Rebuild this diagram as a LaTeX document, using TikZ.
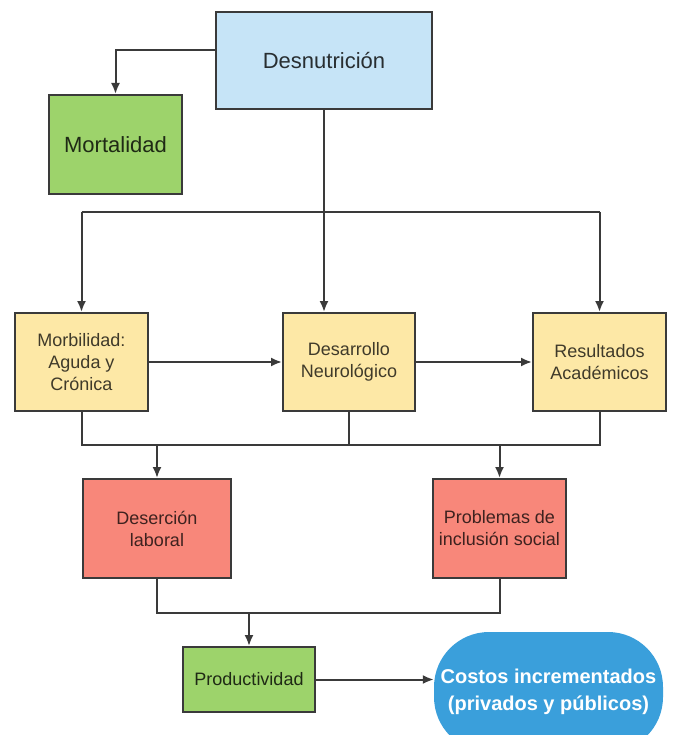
\documentclass[tikz,border=0pt]{standalone}
\usepackage{fontspec}
\setmainfont{Liberation Sans}
\usepackage{xcolor}
\usetikzlibrary{calc,arrows.meta,positioning}
\definecolor{celeste}{HTML}{C6E4F7}
\definecolor{verde}{HTML}{9DD36B}
\definecolor{amarillo}{HTML}{FDE8A6}
\definecolor{salmon}{HTML}{F8877A}
\definecolor{azul}{HTML}{3A9FDB}
\definecolor{gris}{HTML}{3A3A3A}
\tikzset{
	caja/.style={draw=gris, line width=2pt, align=center, inner sep=2pt, font=\fontsize{18}{22}\selectfont},
	grande/.style={font=\fontsize{22}{26}\selectfont},
	flecha/.style={draw=gris, line width=2pt, -{Latex[length=11pt,width=9pt]}},
	linea/.style={draw=gris, line width=2pt}
}

\begin{document}
\begin{tikzpicture}[x=1pt,y=-1pt]
				\useasboundingbox (0,0) rectangle (675,735);
				\node [caja, grande, fill=celeste, text=celeste!20!black, minimum width=216pt, minimum height=97pt] (desn) at (324,60.5) {Desnutrición};
				\node [caja, grande, fill=verde, text=verde!20!black, minimum width=133pt, minimum height=99pt] (mort) at (115.5,144.5) {Mortalidad};
				\node [caja, fill=amarillo, text=amarillo!25!black, minimum width=133pt, minimum height=98pt] (morb) at (81.5,362) {Morbilidad:\\Aguda y\\Crónica};
				\node [caja, fill=amarillo, text=amarillo!25!black, minimum width=132pt, minimum height=98pt] (desa) at (349,362) {Desarrollo\\Neurológico};
				\node [caja, fill=amarillo, text=amarillo!25!black, minimum width=133pt, minimum height=98pt] (resu) at (599.5,362) {Resultados\\Académicos};
				\node [caja, fill=salmon, text=salmon!25!black, minimum width=148pt, minimum height=99pt] (dese) at (157,528.5) {Deserción\\laboral};
				\node [caja, fill=salmon, text=salmon!25!black, minimum width=133pt, minimum height=99pt] (prob) at (499.5,528.5) {Problemas de\\inclusión social};
				\node [caja, fill=verde, text=verde!20!black, minimum width=132pt, minimum height=65pt] (prod) at (249,679.5) {Productividad};
				\node [fill=azul, text=white, rounded corners=55pt, align=center, minimum width=229pt, minimum height=120pt, font=\bfseries\fontsize{20}{27}\selectfont] (cost) at (548.5,692) {Costos incrementados\\(privados y públicos)};
				\coordinate (rama) at (0,212);
				\coordinate (bajo) at (0,445);
				\coordinate (bajo2) at (0,613);
				\draw [flecha] ($(desn.west)+(0,-10)$) -| (mort.north);
				\draw [flecha] (desn.south) -- (desn.south |- desa.north);
				\draw [linea] (morb.north |- rama) -- (resu.north |- rama);
				\draw [flecha] (morb.north |- rama) -- (morb.north);
				\draw [flecha] (resu.north |- rama) -- (resu.north);
				\draw [flecha] (morb) -- (desa);
				\draw [flecha] (desa) -- (resu);
				\draw [linea] (morb.south) -- (morb.south |- bajo) -- (resu.south |- bajo) -- (resu.south);
				\draw [linea] (desa.south) -- (desa.south |- bajo);
				\draw [flecha] (dese.north |- bajo) -- (dese.north);
				\draw [flecha] (prob.north |- bajo) -- (prob.north);
				\draw [linea] (dese.south) -- (dese.south |- bajo2) -- (prob.south |- bajo2) -- (prob.south);
				\draw [flecha] (prod.north |- bajo2) -- (prod.north);
				\draw [flecha] (prod.east) -- (prod.east -| cost.west);
			\end{tikzpicture}
\end{document}
